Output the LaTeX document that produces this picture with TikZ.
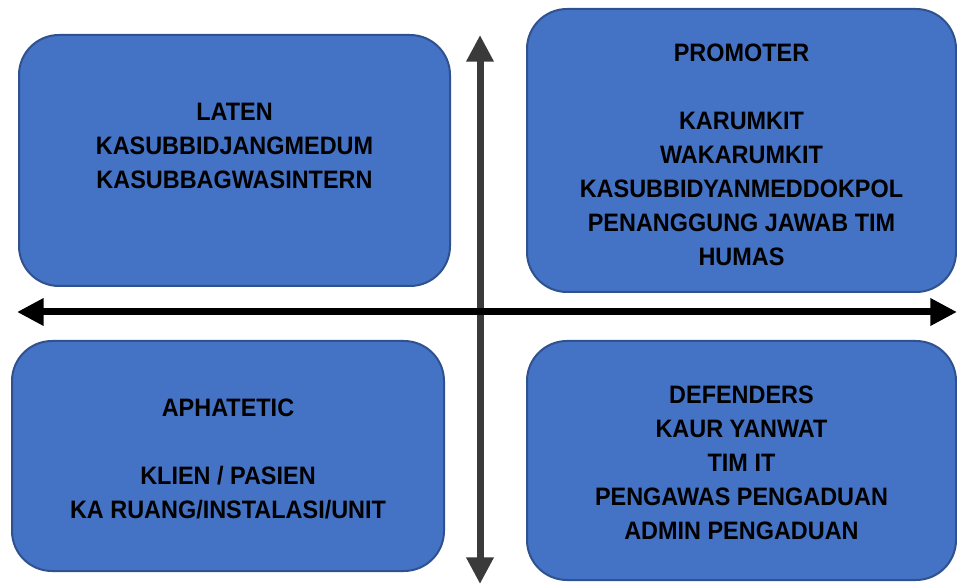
\documentclass[tikz,border=0pt]{standalone}
\usepackage{fontspec}
\setmainfont{Liberation Sans}[FakeStretch=0.93]
\usetikzlibrary{arrows.meta}

\definecolor{isiKotak}{HTML}{4472C4}
\definecolor{garisKotak}{HTML}{2F528F}
\definecolor{sumbuTegak}{HTML}{3A3A3A}

\tikzset{
  kotak/.style={shape=rectangle, rounded corners=30pt, draw=garisKotak, fill=isiKotak, line width=1.5pt},
  teks/.style={anchor=north, inner sep=0pt, align=center, font=\fontsize{18.9}{25.5}\selectfont\bfseries},
  sumbu/.style={line width=5.25pt, {Triangle[width=19.5pt,length=20pt]}-{Triangle[width=19.5pt,length=20pt]}}
}

\begin{document}
\begin{tikzpicture}[x=0.75pt, y=-0.75pt]
			\useasboundingbox (0,0) rectangle (957,584);
			%Kuadran:
			\node[kotak, minimum width=323.25pt, minimum height=188.25pt] (laten) at (234.5,160.5) {};
			\node[kotak, minimum width=321.75pt, minimum height=212.25pt] (promoter) at (741.5,150.5) {};
			\node[kotak, minimum width=324pt, minimum height=172.5pt] (aphatetic) at (228,456) {};
			\node[kotak, minimum width=321.75pt, minimum height=179.25pt] (defenders) at (741.5,460.5) {};
			%Isi kuadran:
			\node[teks] (latenTeks) at (234.5,102.5) {LATEN\\KASUBBIDJANGMEDUM\\KASUBBAGWASINTERN};
			\node[teks] (promoterTeks) at (741.5,43.5) {PROMOTER\\ \\KARUMKIT\\WAKARUMKIT\\KASUBBIDYANMEDDOKPOL\\PENANGGUNG JAWAB TIM\\HUMAS};
			\node[teks] (aphateticTeks) at (228,398.5) {APHATETIC\\ \\KLIEN / PASIEN\\KA RUANG/INSTALASI/UNIT};
			\node[teks] (defendersTeks) at (741.5,385.5) {DEFENDERS\\KAUR YANWAT\\TIM IT\\PENGAWAS PENGADUAN\\ADMIN PENGADUAN};
			%Sumbu:
			\coordinate (atas) at (480,35);
			\coordinate (bawah) at (480,584);
			\coordinate (kiri) at (17,312);
			\coordinate (kanan) at (957,312);
			\draw[sumbu, draw=sumbuTegak, fill=sumbuTegak] (atas) -- (bawah);
			\draw[sumbu, draw=black, fill=black] (kiri) -- (kanan);
\end{tikzpicture}
\end{document}
